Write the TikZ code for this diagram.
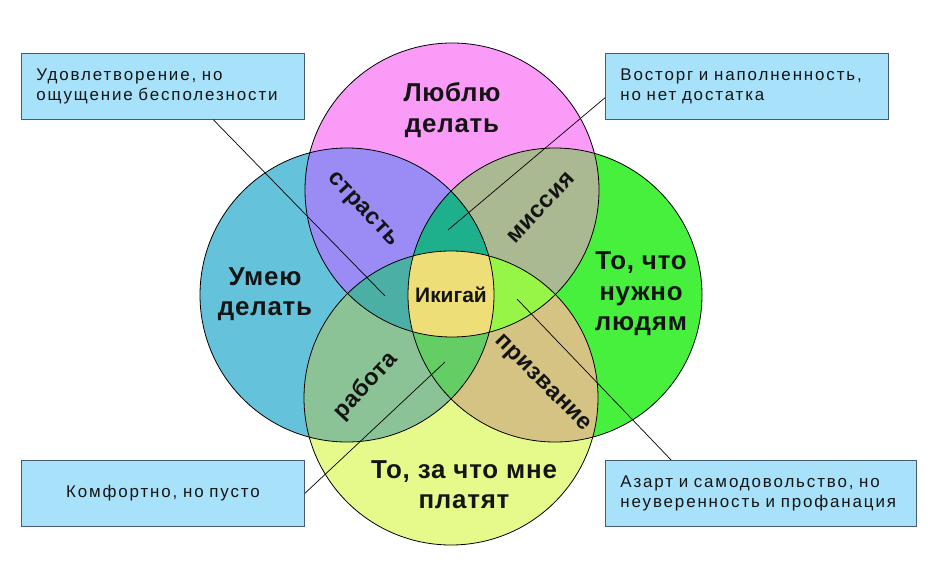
\documentclass[tikz,border=0pt]{standalone}
\usepackage{fontspec}
\setmainfont{Liberation Sans}
\usetikzlibrary{calc}
\definecolor{cpink}{RGB}{250,155,248}
\definecolor{cblue}{RGB}{100,195,218}
\definecolor{cgreen}{RGB}{70,240,60}
\definecolor{cyellow}{RGB}{230,250,140}
\definecolor{cpb}{RGB}{155,140,245}
\definecolor{cpg}{RGB}{170,185,145}
\definecolor{cby}{RGB}{140,195,150}
\definecolor{cgy}{RGB}{212,195,130}
\definecolor{cpbg}{RGB}{30,175,140}
\definecolor{cpby}{RGB}{75,175,165}
\definecolor{cpgy}{RGB}{150,245,70}
\definecolor{cbgy}{RGB}{100,205,100}
\definecolor{call}{RGB}{238,222,120}
\definecolor{boxblue}{RGB}{168,226,250}
\definecolor{boxedge}{RGB}{70,90,120}
\definecolor{ink}{RGB}{20,20,20}
\begin{document}
\begin{tikzpicture}[x=1bp,y=-1bp,
  ring/.style={draw=black,line width=0.8bp},
  big/.style={anchor=base,font=\bfseries\fontsize{26}{31}\selectfont\addfontfeatures{LetterSpace=3},text=ink},
  mid/.style={font=\bfseries\fontsize{23.5}{28}\selectfont\addfontfeatures{LetterSpace=2},text=ink},
  infobox/.style={draw=boxedge,fill=boxblue,line width=0.8bp,minimum height=66bp,
    inner xsep=15bp,inner ysep=0bp,align=left,
    font=\fontsize{17}{20.5}\selectfont\addfontfeatures{LetterSpace=11},text=ink},
  leader/.style={draw=black,line width=0.7bp}]
\useasboundingbox (0,0) rectangle (928,572);
\coordinate (P) at (452,190);
\coordinate (B) at (347,295);
\coordinate (G) at (555,295);
\coordinate (Y) at (451,398);
\def\R{147bp}
% base circles
\fill[cpink] (P) circle (\R);
\fill[cblue] (B) circle (\R);
\fill[cgreen] (G) circle (\R);
\fill[cyellow] (Y) circle (\R);
% pairwise
\begin{scope}\clip (P) circle (\R); \fill[cpb] (B) circle (\R); \fill[cpg] (G) circle (\R);\end{scope}
\begin{scope}\clip (Y) circle (\R); \fill[cby] (B) circle (\R); \fill[cgy] (G) circle (\R);\end{scope}
% triple
\begin{scope}\clip (P) circle (\R); \clip (B) circle (\R); \fill[cpbg] (G) circle (\R);\end{scope}
\begin{scope}\clip (P) circle (\R); \clip (B) circle (\R); \fill[cpby] (Y) circle (\R);\end{scope}
\begin{scope}\clip (P) circle (\R); \clip (G) circle (\R); \fill[cpgy] (Y) circle (\R);\end{scope}
\begin{scope}\clip (B) circle (\R); \clip (G) circle (\R); \fill[cbgy] (Y) circle (\R);\end{scope}
% all four
\begin{scope}\clip (P) circle (\R); \clip (B) circle (\R); \clip (G) circle (\R); \fill[call] (Y) circle (\R);\end{scope}
% outlines
\draw[ring] (P) circle (\R);
\draw[ring] (B) circle (\R);
\draw[ring] (G) circle (\R);
\draw[ring] (Y) circle (\R);
% main labels
\node[big] (love1) at (452,102) {Люблю};
\node[big] (love2) at (452,133) {делать};
\node[big] (can1) at (265,285) {Умею};
\node[big] (can2) at (265,315) {делать};
\node[big] (need1) at (641,270) {То, что};
\node[big] (need2) at (641,300) {нужно};
\node[big] (need3) at (641,330) {людям};
\node[big] (paid1) at (464,478) {То, за что мне};
\node[big] (paid2) at (464,508) {платят};
\node[mid,rotate=-47] (passion) at (362,210) {страсть};
\node[mid,rotate=47] (mission) at (541,208) {миссия};
\node[mid,rotate=47] (job) at (366,386) {работа};
\node[mid,rotate=-45] (calling) at (542,384) {призвание};
\node[font=\bfseries\fontsize{21}{24}\selectfont,text=ink,anchor=base] (iki) at (451,302) {Икигай};
% leader end points
\coordinate (e1) at (385,296);
\coordinate (e2) at (448,230);
\coordinate (e3) at (445,362);
\coordinate (e4) at (517,299);
% boxes
\node[infobox,anchor=north west,minimum width=283bp,text width=253bp] (tl) at (21,53)
  {\mbox{Удовлетворение, но}\\\mbox{ощущение бесполезности}};
\node[infobox,anchor=north west,minimum width=283bp,text width=253bp] (tr) at (605,53)
  {\mbox{Восторг и наполненность,}\\\mbox{но нет достатка}};
\node[infobox,anchor=north west,minimum width=283bp,text width=253bp,align=center] (bl) at (21,460)
  {\mbox{Комфортно, но пусто}};
\node[infobox,anchor=north west,minimum width=311bp,text width=281bp] (br) at (605,460)
  {\mbox{Азарт и самодовольство, но}\\\mbox{неуверенность и профанация}};
% leaders
\draw[leader] ($(tl.south west)!0.678!(tl.south east)$) -- (e1);
\draw[leader] ($(tr.north west)!0.67!(tr.south west)$) -- (e2);
\draw[leader] (bl.east) -- (e3);
\draw[leader] ($(br.north west)!0.212!(br.north east)$) -- (e4);
\end{tikzpicture}
\end{document}
